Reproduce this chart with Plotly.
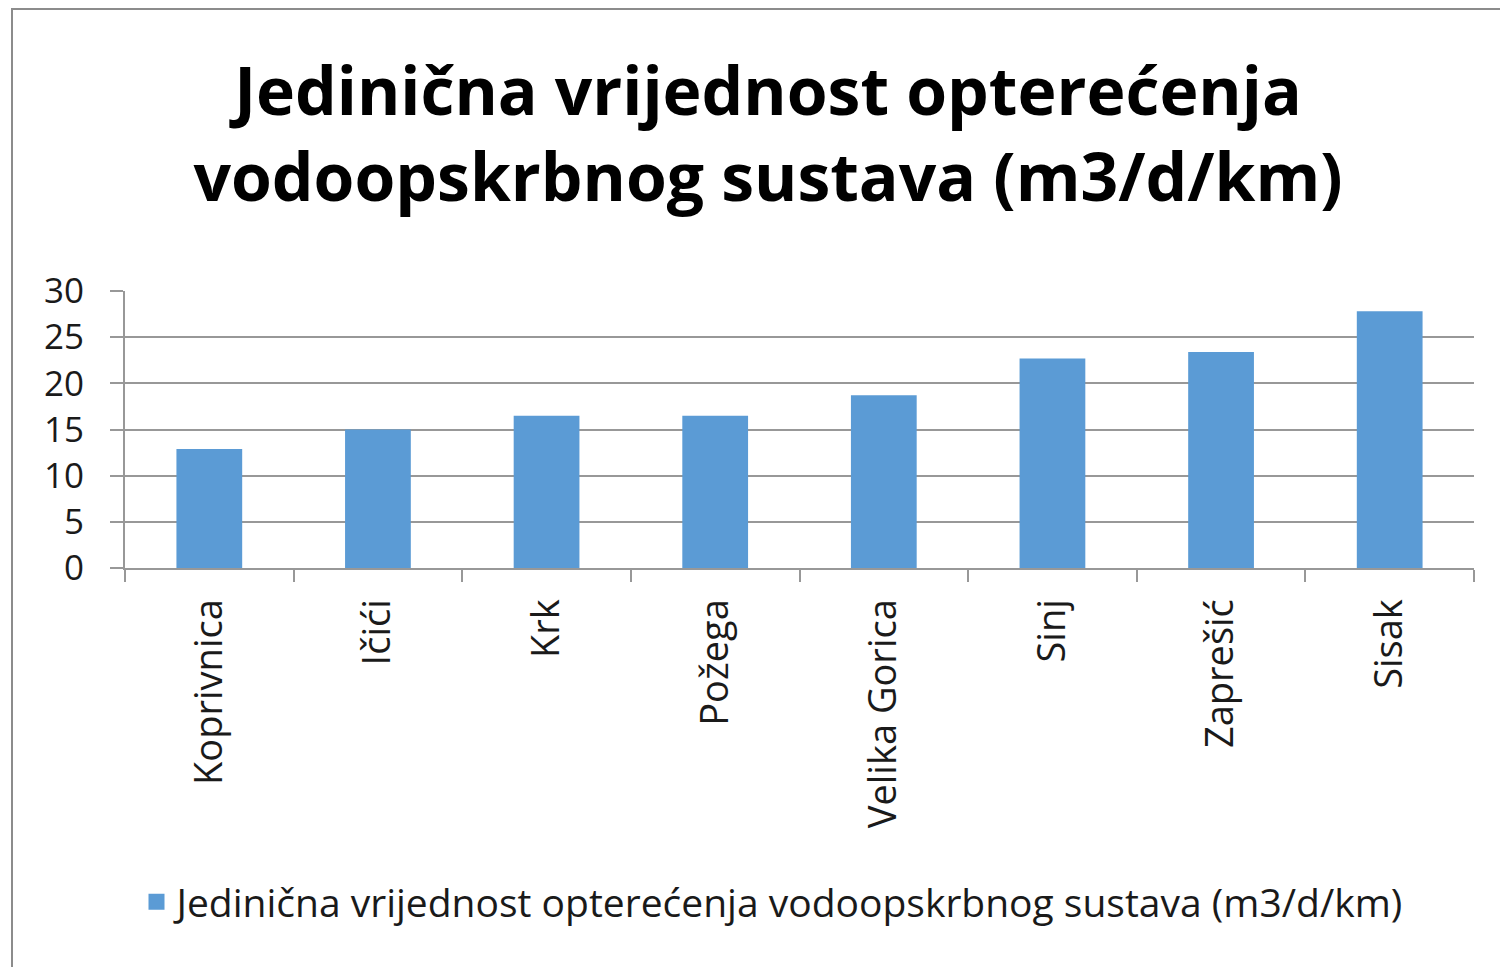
import plotly.graph_objects as go

categories = ["Koprivnica", "Ičići", "Krk", "Požega", "Velika Gorica", "Sinj", "Zaprešić", "Sisak"]
values = [12.9, 15.0, 16.5, 16.5, 18.7, 22.7, 23.4, 27.8]
series_name = "Jedinična vrijednost opterećenja vodoopskrbnog sustava (m3/d/km)"
title_text = "Jedinična vrijednost opterećenja<br>vodoopskrbnog sustava (m3/d/km)"
y_ticks = [0, 5, 10, 15, 20, 25, 30]

# page body has an 8px margin, so the figure is sized and placed to compensate
W, H = 1500, 959
L, R, T, B = 117, 34, 283, 399
BAR_COLOR = "#5B9BD5"
GRID = "#989898"

fig = go.Figure()
fig.add_trace(go.Bar(
    x=categories, y=values, name=series_name,
    marker=dict(color=BAR_COLOR, line=dict(width=0)),
    showlegend=False,
))
# legend entry (larger square symbol like the reference)
fig.add_trace(go.Scatter(
    x=[None], y=[None], mode="markers", name=series_name,
    marker=dict(symbol="square", size=22, color=BAR_COLOR),
    showlegend=True, hoverinfo="skip",
))

def px2paper_x(px):
    return (px - L) / (W - L - R)

def px2paper_y(py):
    return (H - B - py) / (H - T - B)

fig.update_layout(
    width=W, height=H,
    margin=dict(l=L, r=R, t=T, b=B, pad=0),
    paper_bgcolor="white", plot_bgcolor="white",
    bargap=0.61,
    font=dict(family="Open Sans", color="#1a1a1a"),
    title=dict(
        text=title_text,
        font=dict(family="Open Sans", size=66, color="black", weight="bold"),
        x=760 / W, xanchor="center", xref="container",
        y=1 - 107 / H, yanchor="top", yref="container",
    ),
    showlegend=True,
    legend=dict(
        orientation="h", xref="container", yref="container",
        x=766 / W, xanchor="center", y=1 - 894 / H, yanchor="middle",
        font=dict(size=39, color="#1a1a1a"),
        itemsizing="trace",
    ),
    xaxis=dict(
        type="category",
        tickangle=-90,
        tickson="boundaries",
        ticks="outside", ticklen=12, tickcolor=GRID, tickwidth=2,
        showline=True, linecolor=GRID, linewidth=2,
        showgrid=False,
        tickfont=dict(size=38, color="#1a1a1a"),
        ticklabelstandoff=14,
    ),
    yaxis=dict(
        range=[0, 30],
        tickvals=y_ticks,
        ticks="outside", ticklen=13, tickcolor=GRID, tickwidth=2,
        showline=True, linecolor=GRID, linewidth=2,
        showgrid=True, gridcolor=GRID, gridwidth=2,
        zeroline=False,
        tickfont=dict(size=35, color="#1a1a1a"),
        ticklabelstandoff=19,
    ),
    shapes=[dict(
        type="rect", xref="paper", yref="paper",
        x0=px2paper_x(4), x1=px2paper_x(1520),
        y0=px2paper_y(980), y1=px2paper_y(1),
        line=dict(color="#8c8c8c", width=2), fillcolor="rgba(0,0,0,0)",
        layer="below",
    )],
)

fig.write_html("out.html")
